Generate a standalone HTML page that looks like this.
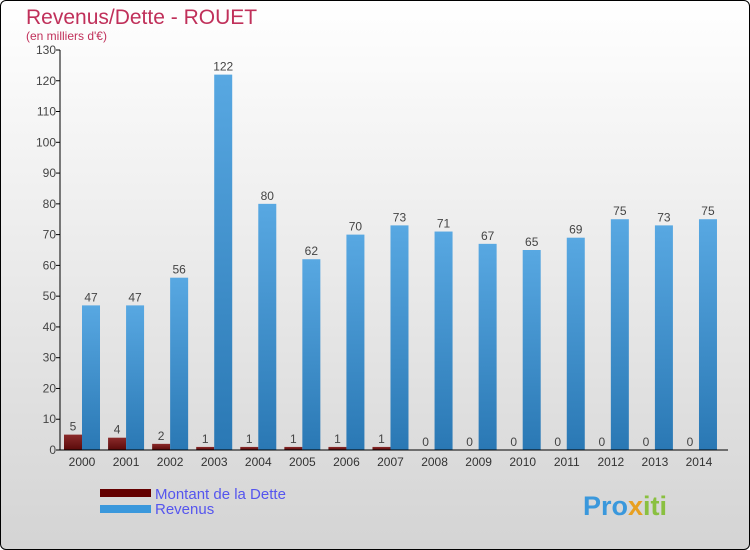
<!DOCTYPE html>
<html><head><meta charset="utf-8"><style>
body{margin:0;width:750px;height:550px;overflow:hidden;font-family:"Liberation Sans",sans-serif}
#wrap{position:absolute;left:0;top:0;width:748px;height:548px;border:1px solid #000;border-radius:6px;background:linear-gradient(#ffffff,#d4d4d4);overflow:hidden}
</style></head><body>
<div id="wrap">
<svg id="chart" width="750" height="550" style="position:absolute;left:-1px;top:-1px">
<defs>
<linearGradient id="gRev" x1="0" x2="0" y1="0" y2="1"><stop offset="0" stop-color="#58a8e2"/><stop offset="1" stop-color="#2a78b4"/></linearGradient>
<linearGradient id="gDebt" x1="0" x2="0" y1="0" y2="1"><stop offset="0" stop-color="#8b2a2a"/><stop offset="1" stop-color="#5a0a0a"/></linearGradient>
</defs>
<text x="26" y="24" font-size="21" fill="#c0305a">Revenus/Dette - ROUET</text>
<text x="26" y="40" font-size="12" fill="#c0305a">(en milliers d'€)</text>
<g id="plot"></g>
<rect x="100" y="489" width="51" height="8" fill="#640000"/>
<rect x="100" y="505" width="51" height="8" fill="#3a98dc"/>
<text x="155" y="499" font-size="15" fill="#5555ee">Montant de la Dette</text>
<text x="155" y="514" font-size="15" fill="#5555ee">Revenus</text>
<text x="583" y="515" font-size="27" font-weight="bold" fill="#3a98dc">Pro<tspan fill="#e8a020">x</tspan><tspan fill="#8ac040">iti</tspan></text>
</svg>
</div>
<script>
const years=["2000","2001","2002","2003","2004","2005","2006","2007","2008","2009","2010","2011","2012","2013","2014"];
const debt=[5,4,2,1,1,1,1,1,0,0,0,0,0,0,0];
const revenue=[47,47,56,122,80,62,70,73,71,67,65,69,75,73,75];
const yTicks=[0,10,20,30,40,50,60,70,80,90,100,110,120,130];
const NS="http://www.w3.org/2000/svg";
const g=document.getElementById("plot");
const y0=450,yTop=50,yMax=130,xAxis=60;
const yS=v=>y0-v*(y0-yTop)/yMax;
const xS=i=>82+i*44.07;
function mk(t,a){const e=document.createElementNS(NS,t);for(const k in a)e.setAttribute(k,a[k]);g.appendChild(e);return e;}
yTicks.forEach(t=>{
  const l=mk("line",{x1:xAxis-4,x2:xAxis,y1:yS(t),y2:yS(t),stroke:"#000"});
  
  
  const tx=mk("text",{x:xAxis-4,y:yS(t)+4,"text-anchor":"end","font-size":"12",fill:"#444"});
  tx.textContent=t;
  
  
});
years.forEach((yr,i)=>{
  const c=xS(i);
  const d=debt[i];
  const rb=mk("rect",{x:c-18,y:yS(d),width:18,height:y0-yS(d),fill:"url(#gDebt)"});
  
  
  const dl=mk("text",{x:c-9,y:yS(d)-4,"text-anchor":"middle","font-size":"12",fill:"#444"});
  dl.textContent=d;
  
  
  const r=revenue[i];
  const rr=mk("rect",{x:c,y:yS(r),width:18,height:y0-yS(r),fill:"url(#gRev)"});
  
  
  const rl=mk("text",{x:c+9,y:yS(r)-4,"text-anchor":"middle","font-size":"12",fill:"#444"});
  rl.textContent=r;
  
  
  const xl=mk("text",{x:c,y:466,"text-anchor":"middle","font-size":"12",fill:"#333"});
  xl.textContent=yr;
  
  
});
const ya=mk("line",{x1:xAxis,x2:xAxis,y1:yTop,y2:y0,stroke:"#000"});


const xa=mk("line",{x1:xAxis,x2:728,y1:y0,y2:y0,stroke:"#000"});


</script>
</body></html>
